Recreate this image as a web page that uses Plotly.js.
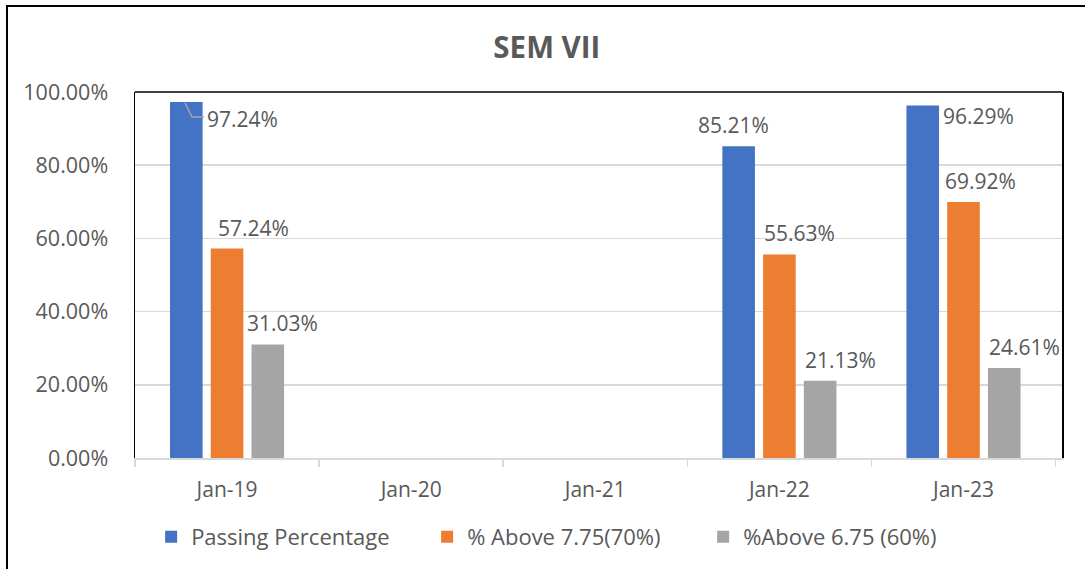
<!DOCTYPE html>
<html>
<head>
<meta charset="utf-8">
<script src="https://cdn.plot.ly/plotly-3.0.1.min.js"></script>
<style>
  html, body { margin: 0; padding: 0; overflow: hidden; background: #fff; }
  #chart { position: absolute; left: 0; top: 0; width: 1085px; height: 569px; }
  #frame { position: absolute; left: 6px; top: 5px; width: 1200px; height: 700px;
           border: 2.5px solid #000; pointer-events: none; }
</style>
</head>
<body>
<div id="chart"></div>
<div id="frame"></div>
<script>
// ---- data ----
const categories = ["Jan-19", "Jan-20", "Jan-21", "Jan-22", "Jan-23"];
const passingPct = [0.9724, null, null, 0.8521, 0.9629];
const above775   = [0.5724, null, null, 0.5563, 0.6992];
const above675   = [0.3103, null, null, 0.2113, 0.2461];
const seriesNames = ["Passing Percentage", "% Above 7.75(70%)", "%Above 6.75 (60%)"];

// ---- style ----
const colors = ["#4472C4", "#ED7D31", "#A5A5A5"];
const textColor = "#595959";
const fontFam = "'Open Sans', 'Noto Sans', sans-serif";
// horizontal label offsets (px from category centre) per series / category
const labelDx = [
  [-46, 0, 0, -46, -46],
  [26, 0, 0, 20, 17],
  [55, 0, 0, 61, 61]
];

const seriesVals = [passingPct, above775, above675];

const traces = seriesVals.map((vals, i) => ({
  type: "bar",
  name: seriesNames[i],
  x: categories,
  y: vals,
  marker: { color: colors[i] },
  hoverinfo: "x+y"
}));

const fmt = v => (v * 100).toFixed(2) + "%";
const annotations = [];
const shapes = [{
  type: "line", xref: "paper", yref: "paper", x0: 0, x1: 1, y0: 1, y1: 1,
  line: { color: "#000", width: 1.5 }
}];
seriesVals.forEach((vals, s) => {
  vals.forEach((v, c) => {
    if (v === null) return;
    if (s === 0 && c === 0) {
      // label with a leader line
      annotations.push({
        x: categories[c], y: v, xref: "x", yref: "y",
        text: fmt(v), showarrow: false, xanchor: "left", yanchor: "middle",
        xshift: -22, yshift: -17,
        font: { family: fontFam, size: 21, color: textColor }
      });
      shapes.push({
        type: "path", xref: "x", yref: "y",
        xsizemode: "pixel", ysizemode: "pixel",
        xanchor: categories[c], yanchor: v,
        path: "M -42 -1 L -35 -15 L -23 -15",
        line: { color: "#A6A6A6", width: 1.5 }
      });
    } else if (s === 0 && c === 4) {
      annotations.push({
        x: categories[c], y: v, xref: "x", yref: "y",
        text: fmt(v), showarrow: false, xanchor: "left", yanchor: "middle",
        xshift: -23, yshift: -10,
        font: { family: fontFam, size: 21, color: textColor }
      });
    } else {
      annotations.push({
        x: categories[c], y: v, xref: "x", yref: "y",
        text: fmt(v), showarrow: false, xanchor: "center", yanchor: "middle",
        xshift: labelDx[s][c], yshift: 21,
        font: { family: fontFam, size: 21, color: textColor }
      });
    }
  });
});

const layout = {
  width: 1085, height: 569,
  margin: { l: 135, r: 23, t: 92, b: 111, autoexpand: false },
  paper_bgcolor: "#ffffff",
  plot_bgcolor: "#ffffff",
  font: { family: fontFam, size: 21, color: textColor },
  title: {
    text: "<b>SEM VII</b>",
    font: { family: fontFam, size: 29.5, color: textColor },
    xref: "container", x: 0.504, xanchor: "center",
    yref: "container", y: 0.917, yanchor: "middle"
  },
  barmode: "group",
  bargap: 0.336,
  bargroupgap: 0.2,
  xaxis: {
    type: "category", automargin: false, tickangle: 0,
    showline: true, linecolor: "#D9D9D9", linewidth: 1.5,
    ticks: "outside", tickson: "boundaries", ticklen: 7, tickcolor: "#D9D9D9", tickwidth: 1.5,
    showgrid: false, zeroline: false,
    tickfont: { family: fontFam, size: 21, color: textColor },
    ticklabelstandoff: 12
  },
  yaxis: {
    range: [0, 1], dtick: 0.2, tickformat: ".2%", automargin: false,
    showline: true, linecolor: "#000", linewidth: 1.5, mirror: true,
    showgrid: true, gridcolor: "#D9D9D9", gridwidth: 1.5,
    zeroline: false, ticks: "",
    tickfont: { family: fontFam, size: 21.5, color: textColor },
    ticklabelstandoff: 21
  },
  legend: {
    orientation: "h", x: 0.464, xanchor: "center", xref: "paper",
    y: -0.216, yanchor: "middle",
    entrywidth: 231, entrywidthmode: "pixels",
    font: { family: fontFam, size: 22, color: textColor },
    itemclick: false, itemdoubleclick: false
  },
  shapes: shapes,
  annotations: annotations,
  showlegend: true
};

Plotly.newPlot("chart", traces, layout, { displayModeBar: false, staticPlot: true });
</script>
</body>
</html>
